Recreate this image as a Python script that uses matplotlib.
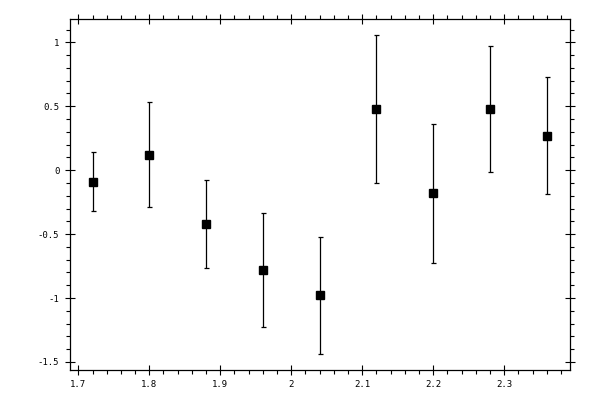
import numpy as np
import matplotlib.pyplot as plt
from matplotlib.ticker import MultipleLocator

# values
x = [1.72, 1.80, 1.88, 1.96, 2.04, 2.12, 2.20, 2.28, 2.36]
y = [-0.09, 0.12, -0.42, -0.78, -0.98, 0.48, -0.18, 0.48, 0.27]
yerr = [0.23, 0.41, 0.345, 0.445, 0.455, 0.58, 0.545, 0.495, 0.46]

fig = plt.figure(figsize=(6, 4), dpi=100)
ax = fig.add_axes([69.5 / 600, 1 - 370.3 / 400, 500.8 / 600, 351 / 400])

ax.errorbar(x, y, yerr=yerr, fmt='s', color='black', markersize=5.2,
            elinewidth=0.9, capsize=1.8, capthick=0.9)

ax.set_xlim(1.6876, 2.393)
ax.set_ylim(-1.565, 1.18)

ax.xaxis.set_major_locator(MultipleLocator(0.1))
ax.xaxis.set_minor_locator(MultipleLocator(0.02))
ax.yaxis.set_major_locator(MultipleLocator(0.5))
ax.yaxis.set_minor_locator(MultipleLocator(0.1))
ax.xaxis.set_major_formatter(plt.FuncFormatter(lambda v, p: '%g' % round(v, 3)))
ax.yaxis.set_major_formatter(plt.FuncFormatter(lambda v, p: '%g' % round(v, 3)))

for s in ax.spines.values():
    s.set_linewidth(0.9)

ax.tick_params(which='both', top=True, right=True, labeltop=False, labelright=False,
               width=0.8, labelsize=6.5, colors='black')
ax.tick_params(which='major', direction='inout', length=6.5, pad=4)
ax.tick_params(which='minor', direction='out', length=3)
for lab in ax.get_xticklabels() + ax.get_yticklabels():
    lab.set_family('DejaVu Sans Mono')

fig.savefig('out.png', dpi=100)
